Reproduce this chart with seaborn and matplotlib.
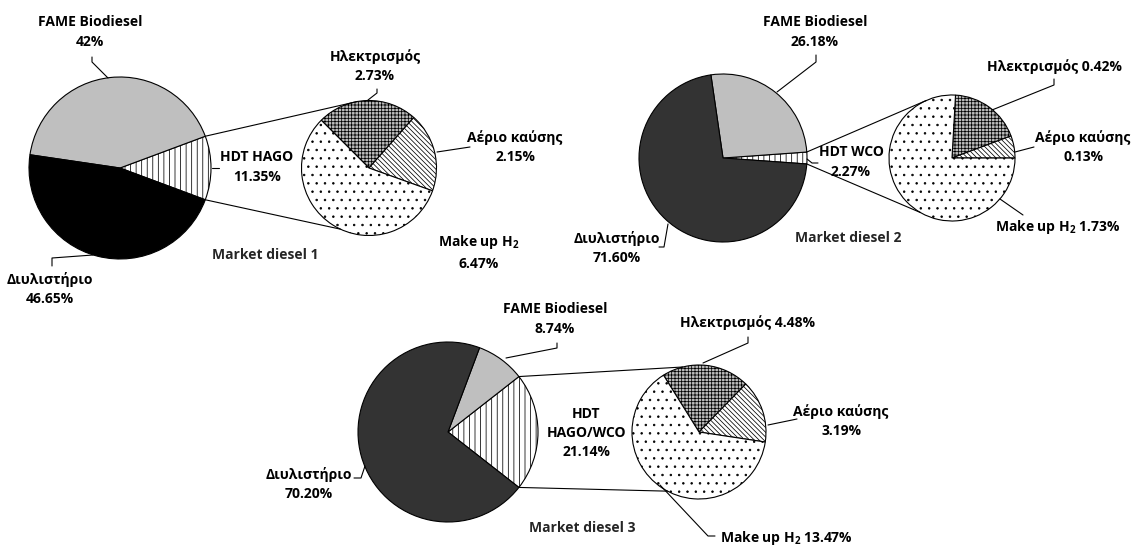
import numpy as np
import pandas as pd
import seaborn as sns
import matplotlib
matplotlib.use("Agg")
import matplotlib.pyplot as plt

# ---------------- data ----------------
main_categories = ["HDT", "FAME Biodiesel", "Διυλιστήριο"]
sub_categories = ["Ηλεκτρισμός", "Αέριο καύσης", "Make up H$_2$"]

main1 = [11.35, 42.0, 46.65]
main2 = [2.27, 26.18, 71.60]
main3 = [21.14, 8.74, 70.20]

sub1 = [2.73, 2.15, 6.47]
sub2 = [0.42, 0.13, 1.73]
sub3 = [4.48, 3.19, 13.47]

main_pct1 = ["11.35%", "42%", "46.65%"]
main_pct2 = ["2.27%", "26.18%", "71.60%"]
main_pct3 = ["21.14%", "8.74%", "70.20%"]
sub_pct1 = ["2.73%", "2.15%", "6.47%"]
sub_pct2 = ["0.42%", "0.13%", "1.73%"]
sub_pct3 = ["4.48%", "3.19%", "13.47%"]

hdt_names = ["HDT HAGO", "HDT WCO", "HDT\nHAGO/WCO"]
titles = ["Market diesel 1", "Market diesel 2", "Market diesel 3"]

# ---------------- style ----------------
sns.set_theme(style="white")
plt.rcParams["font.family"] = ["Open Sans", "DejaVu Sans"]
plt.rcParams["font.weight"] = "bold"
plt.rcParams["mathtext.default"] = "regular"
plt.rcParams["hatch.linewidth"] = 0.55
plt.rcParams["hatch.color"] = "black"

W, H = 1137, 548
fig = plt.figure(figsize=(W / 100, H / 100), dpi=100)
fig.patch.set_facecolor("white")

FS = 10
LS = 1.5

layout = [
    dict(mc=(120, 168), mr=91, sc=(369, 168), sr=67.5, sstart=135, dark="#000000", conn=(100, -115),
         lab=dict(fame=(90, 32, "{n}\n{p}"), hdt=(257, 167), dil=(50, 289, "{n}\n{p}"),
                  el=(375, 66, "{n}\n{p}"), ae=(515, 147, "{n}\n{p}"), mk=(479, 252, "{n}\n{p}"),
                  title=(265, 255)),
         lead=dict(fame=[(92, 57), (92, 62), (108, 78)], hdt=[(212, 168), (219, 168)],
                   dil=[(52, 266), (52, 258), (93, 255)], el=[(377, 89), (377, 93), (368, 100)],
                   ae=[(437, 152), (470, 147)], mk=None)),
    dict(mc=(723, 158), mr=84, sc=(952, 158), sr=63, sstart=86.8, dark="#333333", conn=(114, -120),
         lab=dict(fame=(815, 32, "{n}\n{p}"), hdt=(851, 162), dil=(617, 248, "{n}\n{p}"),
                  el=(1054, 67, "{n} {p}"), ae=(1083, 147, "{n}\n{p}"), mk=(1058, 227, "{n} {p}"),
                  title=(848, 238)),
         lead=dict(fame=[(816, 55), (816, 62), (777, 92)], hdt=[(807, 159), (812, 163), (818, 163)],
                   dil=[(659, 247), (664, 247), (668, 224)], el=[(1054, 79), (1054, 85), (992, 110)],
                   ae=[(1015, 152), (1034, 147)], mk=[(1000, 199), (1023, 215)])),
    dict(mc=(448, 432), mr=90, sc=(699, 432), sr=67, sstart=122, dark="#333333", conn=(104, -118),
         lab=dict(fame=(555, 319, "{n}\n{p}"), hdt=(586, 433), dil=(309, 484, "{n}\n{p}"),
                  el=(747, 323, "{n} {p}"), ae=(841, 421, "{n}\n{p}"), mk=(786, 538, "{n} {p}"),
                  title=(582, 528)),
         lead=dict(fame=[(557, 343), (557, 348), (506, 358)], hdt=None,
                   dil=[(354, 478), (361, 478), (365, 466)], el=[(748, 337), (748, 343), (703, 363)],
                   ae=[(768, 425), (797, 419)], mk=[(660, 485), (708, 536), (715, 536)])),
]

mains = [main1, main2, main3]
subs = [sub1, sub2, sub3]
main_pcts = [main_pct1, main_pct2, main_pct3]
sub_pcts = [sub_pct1, sub_pct2, sub_pct3]

PAD = 1.04


def pie_axes(c, r):
    cx, cy = c
    rr = r * PAD
    return fig.add_axes([(cx - rr) / W, 1 - (cy + rr) / H, 2 * rr / W, 2 * rr / H])


edge = dict(edgecolor="black", linewidth=0.8)
conn_pts = []
for i in range(3):
    L = layout[i]
    m = np.array(mains[i], dtype=float)
    s = np.array(subs[i], dtype=float)
    hdt_ang = 360.0 * m[0] / m.sum()

    axm = pie_axes(L["mc"], L["mr"])
    axm.pie(m, colors=["white", "#bfbfbf", L["dark"]], hatch=["|||", "", ""],
            startangle=-hdt_ang / 2, counterclock=True, wedgeprops=edge, radius=1)
    axm.set_xlim(-PAD, PAD)
    axm.set_ylim(-PAD, PAD)
    axm.axis("off")

    axs = pie_axes(L["sc"], L["sr"])
    axs.pie(s, colors=["#bcbcbc", "white", "white"], hatch=["+++++", "\\" * 7, ".."],
            startangle=L["sstart"], counterclock=False, wedgeprops=edge, radius=1)
    axs.set_xlim(-PAD, PAD)
    axs.set_ylim(-PAD, PAD)
    axs.axis("off")

    # connector geometry derived from the HDT slice angle
    cx, cy = L["mc"]
    r = L["mr"]
    sx, sy = L["sc"]
    sr = L["sr"]
    a1, a2 = np.deg2rad(hdt_ang / 2), np.deg2rad(-hdt_ang / 2)
    b1, b2 = np.deg2rad(L["conn"][0]), np.deg2rad(L["conn"][1])
    conn_pts.append([
        ((cx + r * np.cos(a1), cy - r * np.sin(a1)), (sx + sr * np.cos(b1), sy - sr * np.sin(b1))),
        ((cx + r * np.cos(a2), cy - r * np.sin(a2)), (sx + sr * np.cos(b2), sy - sr * np.sin(b2))),
    ])

# overlay in pixel coordinates
ax0 = fig.add_axes([0, 0, 1, 1])
ax0.set_xlim(0, W)
ax0.set_ylim(H, 0)
ax0.axis("off")
ax0.patch.set_alpha(0)

for i in range(3):
    L = layout[i]
    for p, q in conn_pts[i]:
        ax0.plot([p[0], q[0]], [p[1], q[1]], color="black", lw=0.8)
    for key, pts in L["lead"].items():
        if pts:
            xs, ys = zip(*pts)
            ax0.plot(xs, ys, color="black", lw=0.8)

    def put(key, name, pct):
        spec = L["lab"][key]
        fmt = spec[2] if len(spec) > 2 else "{n}\n{p}"
        ax0.text(spec[0], spec[1], fmt.format(n=name, p=pct), ha="center", va="center",
                 fontsize=FS, fontweight="bold", linespacing=LS, color="black")

    put("hdt", hdt_names[i], main_pcts[i][0])
    put("fame", main_categories[1], main_pcts[i][1])
    put("dil", main_categories[2], main_pcts[i][2])
    put("el", sub_categories[0], sub_pcts[i][0])
    put("ae", sub_categories[1], sub_pcts[i][1])
    put("mk", sub_categories[2], sub_pcts[i][2])
    tx, ty = L["lab"]["title"]
    ax0.text(tx, ty, titles[i], ha="center", va="center", fontsize=FS, fontweight="bold")

fig.savefig("out.png", dpi=100, facecolor="white")
